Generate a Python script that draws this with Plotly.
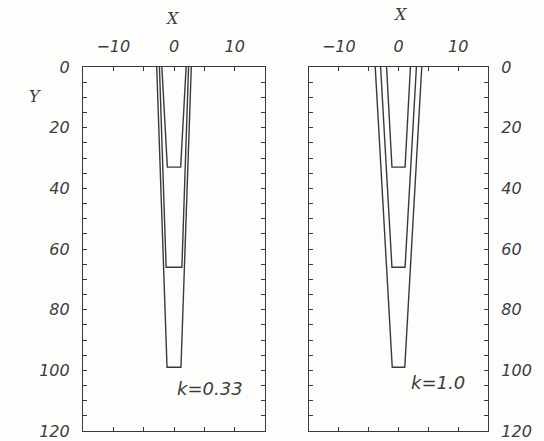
import plotly.graph_objects as go

# Data
depths = [33, 66, 99]
top_half_k033 = [2.0, 2.4, 2.85]
bot_half_k033 = [1.1, 1.3, 1.15]
top_half_k10 = [2.0, 3.0, 3.9]
bot_half_k10 = [1.1, 1.1, 1.05]
x_ticks = [-10, 0, 10]
y_ticks = [0, 20, 40, 60, 80, 100, 120]
panel_labels = ["k=0.33", "k=1.0"]
label_pos = [(5.9, 106.0), (6.6, 104.0)]

W, H = 544, 441
LINE = "#3a3a3a"
TXT = "#3c3c3c"

fig = go.Figure()

def add_shapes(tops, bots, xa, ya):
    for d, t, b in zip(depths, tops, bots):
        fig.add_trace(go.Scatter(
            x=[-t, -b, b, t], y=[0, d, d, 0], mode="lines",
            line=dict(color=LINE, width=1.4), xaxis=xa, yaxis=ya,
            showlegend=False, hoverinfo="skip"))

add_shapes(top_half_k033, bot_half_k033, "x", "y")
add_shapes(top_half_k10, bot_half_k10, "x2", "y2")

tickfont = dict(family="DejaVu Sans", size=16, color=TXT, style="italic")
minor = dict(dtick=5, ticks="inside", ticklen=4, tickcolor=LINE, showgrid=False)
common_x = dict(range=[-15, 15], side="top", tickvals=x_ticks, ticks="inside",
                ticklen=4, tickcolor=LINE, showline=True, linecolor=LINE, linewidth=1.2,
                mirror="ticks", showgrid=False, zeroline=False, tickfont=tickfont,
                minor=minor, fixedrange=True, automargin=False, ticklabelstandoff=8)
common_y = dict(range=[120, 0], tickvals=y_ticks, ticks="inside",
                ticklen=4, tickcolor=LINE, showline=True, linecolor=LINE, linewidth=1.2,
                mirror="ticks", showgrid=False, zeroline=False, tickfont=tickfont,
                minor=minor, fixedrange=True, automargin=False, ticklabelstandoff=9)

x1d = [83 / W, 265 / W]
x2d = [309 / W, 488 / W]
yd = [10 / H, 374 / H]

fig.update_layout(
    width=W, height=H,
    margin=dict(l=0, r=0, t=0, b=0, autoexpand=False),
    paper_bgcolor="#fdfdfb", plot_bgcolor="#fdfdfb",
    xaxis=dict(common_x, domain=x1d, anchor="y"),
    yaxis=dict(common_y, domain=yd, anchor="x", side="left"),
    xaxis2=dict(common_x, domain=x2d, anchor="y2"),
    yaxis2=dict(common_y, domain=yd, anchor="x2", side="right"),
)

titlefont = dict(family="DejaVu Serif", size=16, color=TXT, style="italic")
# X titles
fig.add_annotation(text="X", x=172 / W, y=1 - 18 / H, xref="paper", yref="paper",
                   showarrow=False, font=titlefont, xanchor="center", yanchor="middle")
fig.add_annotation(text="X", x=400 / W, y=1 - 14 / H, xref="paper", yref="paper",
                   showarrow=False, font=titlefont, xanchor="center", yanchor="middle")
# Y title
fig.add_annotation(text="Y", x=35 / W, y=1 - 97 / H, xref="paper", yref="paper",
                   showarrow=False, font=titlefont, xanchor="center", yanchor="middle")

# Panel labels
for (lx, ly), lab, xr, yr in zip(label_pos, panel_labels, ["x", "x2"], ["y", "y2"]):
    fig.add_annotation(text=lab, x=lx, y=ly, xref=xr, yref=yr, showarrow=False,
                       font=dict(family="DejaVu Sans", size=18, color=TXT, style="italic"),
                       xanchor="center", yanchor="middle")

fig.write_html(
    "out.html",
    config={"displayModeBar": False},
    post_script="document.body.style.margin='0';document.body.style.overflow='hidden';"
                "document.documentElement.style.overflow='hidden';",
)
